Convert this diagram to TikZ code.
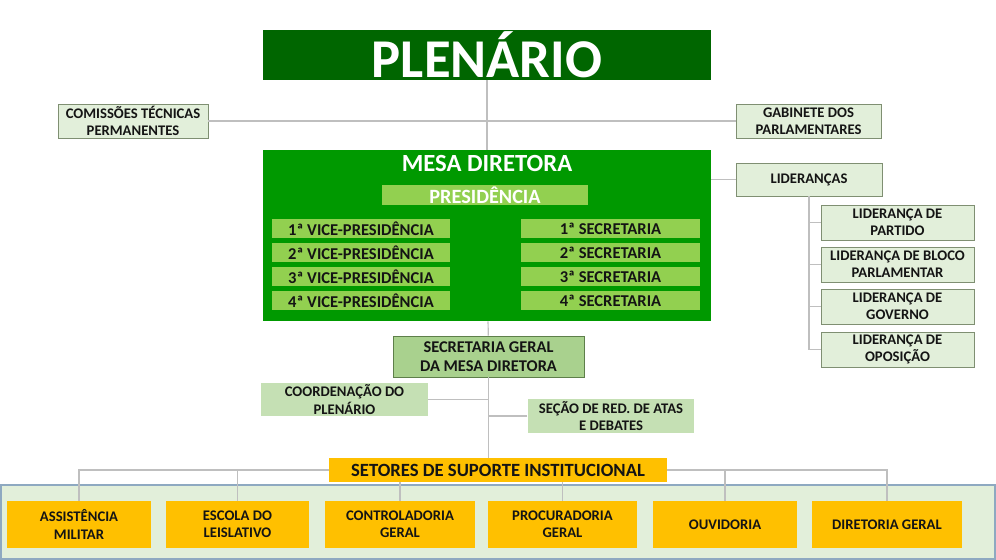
\documentclass[tikz,border=0pt]{standalone}
\usepackage{fontspec}
\setmainfont{Carlito}
\definecolor{plengreen}{HTML}{006600}
\definecolor{mesagreen}{HTML}{009900}
\definecolor{limegreen}{HTML}{92D050}
\definecolor{sagegreen}{HTML}{A9D18E}
\definecolor{mintgreen}{HTML}{C5E0B4}
\definecolor{palegreen}{HTML}{E2EFDA}
\definecolor{paleedge}{HTML}{7F8F72}
\definecolor{sageedge}{HTML}{5E7F4A}
\definecolor{paneledge}{HTML}{8EA9C1}
\definecolor{gold}{HTML}{FFC000}
\definecolor{linegray}{HTML}{BFBFBF}
\definecolor{ink}{HTML}{141414}
\tikzset{
    org/.style={inner sep=0pt, align=center, text=ink,
        font=\bfseries\fontsize{11}{13}\selectfont},
    palebox/.style={org, draw=paleedge, fill=palegreen, line width=0.6pt},
    limebox/.style={org, fill=limegreen, minimum height=14.25pt,
        font=\bfseries\fontsize{12.4}{14}\selectfont},
    mintbox/.style={org, fill=mintgreen, minimum width=125pt, minimum height=25pt},
    goldbox/.style={org, fill=gold, minimum height=35.25pt},
    link/.style={draw=linegray, line width=0.9pt},
}
\begin{document}
\begin{tikzpicture}[x=0.75pt,y=-0.75pt]
    \useasboundingbox (0,0) rectangle (996,560);
    %% Panel
    \draw[fill=palegreen,draw=paneledge,line width=0.8pt] (1,485) rectangle (995,559);
    %% Plenario
    \node[org,fill=plengreen,text=white,minimum width=336pt,minimum height=37.5pt,
        font=\bfseries\fontsize{41}{41}\selectfont] (plen) at (487,55) {PLENÁRIO};
    \node[palebox,minimum width=112.5pt,minimum height=25.5pt] (comis) at (133,121)
        {COMISSÕES TÉCNICAS\\PERMANENTES};
    \node[palebox,minimum width=108.75pt,minimum height=25.5pt] (gab) at (808.5,121)
        {GABINETE DOS\\PARLAMENTARES};
    %% Mesa
    \node[org,fill=mesagreen,minimum width=336pt,minimum height=128.25pt] (mesa) at (487,235.5) {};
    \node[org,text=white,font=\bfseries\fontsize{18.5}{19}\selectfont] (mesat) at (487,163.5) {MESA DIRETORA};
    \node[limebox,text=white,minimum width=154.5pt,minimum height=15pt,
        font=\bfseries\fontsize{15.2}{15}\selectfont] (pres) at (485,195) {PRESIDÊNCIA};
    \foreach \i/\yy in {1/228.5,2/252.5,3/276.5,4/300.5} {
        \node[limebox,minimum width=133.5pt] (vice\i) at (361,\yy) {\i ª VICE-PRESIDÊNCIA};
        \node[limebox,minimum width=134.25pt] (secr\i) at (610.5,\yy) {\i ª SECRETARIA};
    }
    %% Liderancas
    \node[palebox,minimum width=109.5pt,minimum height=24.75pt] (lid) at (809,179.5) {LIDERANÇAS};
    \foreach \n/\yy/\txt in {1/222.5/{LIDERANÇA DE\\PARTIDO},2/264.5/{LIDERANÇA DE BLOCO\\PARLAMENTAR},
            3/306.5/{LIDERANÇA DE\\GOVERNO},4/349.5/{LIDERANÇA DE\\OPOSIÇÃO}} {
        \node[palebox,minimum width=114.75pt,minimum height=26.25pt] (lid\n) at (897.5,\yy) {\txt};
        \draw[link] (lid.south |- lid\n.west) -- (lid\n.west);
    }
    \draw[link] (lid.south) -- (lid.south |- lid4.west);
    %% Secretaria geral
    \node[org,draw=sageedge,fill=sagegreen,line width=0.6pt,minimum width=143.25pt,minimum height=30.75pt,
        font=\bfseries\fontsize{12.3}{14.5}\selectfont] (sg) at (488.5,356.5) {SECRETARIA GERAL\\DA MESA DIRETORA};
    \node[mintbox] (coord) at (344.5,399.5) {COORDENAÇÃO DO\\PLENÁRIO};
    \node[mintbox] (secao) at (611,416) {SEÇÃO DE RED. DE ATAS\\E DEBATES};
    %% Setores
    \node[org,fill=gold,minimum width=253.5pt,minimum height=18pt,
        font=\bfseries\fontsize{14}{14}\selectfont] (set) at (498,470) {SETORES DE SUPORTE INSTITUCIONAL};
    \foreach \n/\xx/\ww/\txt in {1/79/108/{ASSISTÊNCIA\\MILITAR},2/237.5/107.25/{ESCOLA DO\\LEISLATIVO},
            3/400/112.5/{CONTROLADORIA\\GERAL},4/562.5/111.75/{PROCURADORIA\\GERAL},
            5/725/108/{OUVIDORIA},6/887/112.5/{DIRETORIA GERAL}} {
        \node[goldbox,minimum width=\ww pt] (sup\n) at (\xx,524.5) {\txt};
    }
    %% Links
    \draw[link] (plen) -- (mesa);
    \draw[link] (comis) -- (gab);
    \draw[link] (mesa.east |- lid.west) -- (lid.west);
    \draw[link] (mesa) -- (sg);
    \draw[link] (sg.south) -- (sg.south |- set.north);
    \draw[link] (coord.east) -- (sg.south |- coord.east);
    \draw[link] (secao.west) -- (sg.south |- secao.west);
    \draw[link] (set.west) -| (sup1.north);
    \draw[link] (sup2.north |- set.west) -- (sup2.north);
    \draw[link] (sup3.north |- set.south) -- (sup3.north);
    \draw[link] (sup4.north |- set.south) -- (sup4.north);
    \draw[link] (set.east) -| (sup6.north);
    \draw[link] (sup5.north |- set.east) -- (sup5.north);
\end{tikzpicture}
\end{document}
